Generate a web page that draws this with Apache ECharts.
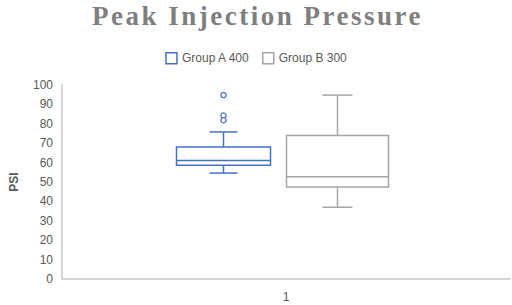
<!DOCTYPE html>
<html><head><meta charset="utf-8">
<script src="https://cdn.jsdelivr.net/npm/echarts@6/dist/echarts.min.js"></script>
<style>html,body{margin:0;padding:0;background:#fff}#c{width:512px;height:305px}</style>
</head><body><div id="c"></div>
<script>
var categories = ['1'];
var yTicks = [0, 10, 20, 30, 40, 50, 60, 70, 80, 90, 100];
// [min, Q1, median, Q3, max]
var groupA = [54.6, 58.6, 61.1, 68, 75.8];
var groupB = [37, 47.4, 52.7, 74, 94.8];
var outliersA = [94.8, 84.3, 81.8];
var titleText = 'Peak Injection Pressure';

var BLUE = '#4472c4', GRAY = '#a5a5a5';

function boxRender(offset, width, cap, color) {
  return function (params, api) {
    var c = api.value(0);
    var pMin = api.coord([c, api.value(1)]);
    var pQ1 = api.coord([c, api.value(2)]);
    var pMed = api.coord([c, api.value(3)]);
    var pQ3 = api.coord([c, api.value(4)]);
    var pMax = api.coord([c, api.value(5)]);
    var x = pMin[0] + offset;
    var hw = width / 2, hc = cap / 2;
    var st = {stroke: color, lineWidth: 1.5, fill: null};
    return {type: 'group', children: [
      {type: 'rect', shape: {x: x - hw, y: pQ3[1], width: width, height: pQ1[1] - pQ3[1]}, style: {stroke: color, lineWidth: 1.5, fill: 'rgba(255,255,255,0)'}},
      {type: 'line', shape: {x1: x - hw, y1: pMed[1], x2: x + hw, y2: pMed[1]}, style: st},
      {type: 'line', shape: {x1: x, y1: pQ3[1], x2: x, y2: pMax[1]}, style: st},
      {type: 'line', shape: {x1: x, y1: pQ1[1], x2: x, y2: pMin[1]}, style: st},
      {type: 'line', shape: {x1: x - hc, y1: pMax[1], x2: x + hc, y2: pMax[1]}, style: st},
      {type: 'line', shape: {x1: x - hc, y1: pMin[1], x2: x + hc, y2: pMin[1]}, style: st}
    ]};
  };
}
function outlierRender(offset, color) {
  return function (params, api) {
    var p = api.coord([api.value(0), api.value(1)]);
    return {type: 'circle', shape: {cx: p[0] + offset, cy: p[1], r: 2.6}, style: {stroke: color, lineWidth: 1.3, fill: '#fff'}};
  };
}

var chart = echarts.init(document.getElementById('c'), null, {renderer: 'svg'});
chart.setOption({
  animation: false,
  title: {text: titleText, left: 87, top: -3,
    textStyle: {fontFamily: 'Liberation Serif', fontWeight: 'bold', fontSize: 27, color: '#7f7f7f'}},
  legend: {top: 47, left: 'center', itemWidth: 11, itemHeight: 11, itemGap: 12,
    textStyle: {color: '#595959', fontSize: 12, fontFamily: 'Liberation Sans'},
    data: [
      {name: 'Group A 400', icon: 'rect', itemStyle: {color: '#fff', borderColor: BLUE, borderWidth: 1.5}},
      {name: 'Group B 300', icon: 'rect', itemStyle: {color: '#fff', borderColor: GRAY, borderWidth: 1.5}}
    ]},
  grid: {left: 58, right: 2, top: 85, bottom: 26},
  xAxis: {type: 'category', data: categories,
    axisLine: {lineStyle: {color: '#c8c8c8', width: 1.5}}, axisTick: {show: false},
    axisLabel: {color: '#595959', fontSize: 12, margin: 12, fontFamily: 'Liberation Sans'}},
  yAxis: {type: 'value', min: yTicks[0], max: yTicks[yTicks.length - 1], interval: 10,
    name: 'PSI', nameLocation: 'middle', nameGap: 42,
    nameTextStyle: {color: '#595959', fontWeight: 'bold', fontSize: 12, fontFamily: 'Liberation Sans'},
    axisLine: {show: true, lineStyle: {color: '#c8c8c8', width: 1.5}}, axisTick: {show: false},
    splitLine: {show: false},
    axisLabel: {color: '#595959', fontSize: 12, margin: 9, fontFamily: 'Liberation Sans'}},
  series: [
    {name: 'Group A 400', type: 'custom', color: BLUE, renderItem: boxRender(-62.5, 94, 28, BLUE),
      data: [[0].concat(groupA)]},
    {name: 'Group A 400', type: 'custom', color: BLUE, renderItem: outlierRender(-62.5, BLUE),
      data: outliersA.map(function (v) { return [0, v]; })},
    {name: 'Group B 300', type: 'custom', color: GRAY, renderItem: boxRender(51.5, 102, 30, GRAY),
      data: [[0].concat(groupB)]}
  ]
});
// widen the title's letter spacing as in the reference
Array.prototype.forEach.call(document.querySelectorAll('#c text'), function (t) {
  if (t.textContent === titleText) { t.setAttribute('letter-spacing', '2.5'); }
});
</script></body></html>
